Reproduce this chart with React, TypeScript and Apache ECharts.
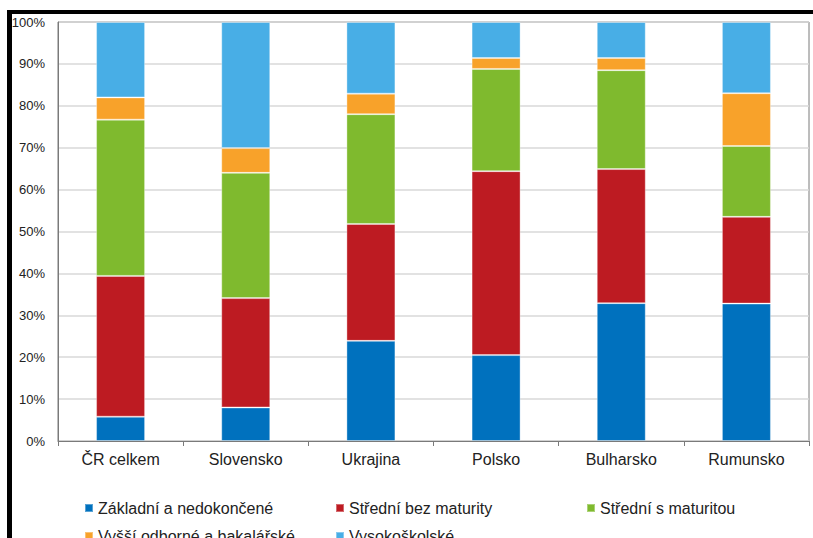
import React, { useEffect, useRef } from "react";
import * as echarts from "echarts";

// Vzdělanostní struktura podle země (v %)
const countries = ["ČR celkem", "Slovensko", "Ukrajina", "Polsko", "Bulharsko", "Rumunsko"];
const seriesNames = [
  "Základní a nedokončené",
  "Střední bez maturity",
  "Střední s maturitou",
  "Vyšší odborné a bakalářské",
  "Vysokoškolské",
];
const zakladni = [5.8, 8.0, 23.9, 20.5, 32.9, 32.8];
const stredniBez = [33.6, 26.1, 27.9, 43.9, 32.0, 20.7];
const stredniS = [37.3, 29.9, 26.2, 24.4, 23.6, 16.9];
const vyssi = [5.3, 5.9, 4.9, 2.6, 2.9, 12.6];
const vysokoskolske = [18.0, 30.1, 17.1, 8.6, 8.6, 17.0];
const yTicks = [0, 10, 20, 30, 40, 50, 60, 70, 80, 90, 100];

const colors = ["#0071BE", "#BD1B22", "#7FBA2E", "#F8A22A", "#48AEE6"];
const values = [zakladni, stredniBez, stredniS, vyssi, vysokoskolske];

// legend grid: 3 columns, 2 rows
const legendLeft = [84, 335, 586, 84, 335];
const legendTop = [500, 500, 500, 528, 528];

const FONT = "'Liberation Sans', Arial, sans-serif";

export default function App() {
  const ref = useRef<HTMLDivElement>(null);

  useEffect(() => {
    if (!ref.current) return;
    const chart = echarts.init(ref.current, null, { renderer: "svg" });

    const legendText = { fontSize: 16, color: "#222", fontFamily: FONT };

    chart.setOption({
      animation: false,
      textStyle: { fontFamily: FONT },
      grid: {
        left: 58,
        right: 4,
        top: 22,
        bottom: 97,
        show: true,
        borderColor: "#7a7a7a",
        borderWidth: 1,
      },
      legend: seriesNames.map((name, i) => ({
        left: legendLeft[i],
        top: legendTop[i],
        padding: 0,
        itemWidth: 8,
        itemHeight: 8,
        icon: "rect",
        textStyle: legendText,
        data: [name],
      })),
      xAxis: {
        type: "category",
        data: countries,
        axisLine: { lineStyle: { color: "#7a7a7a", width: 1 } },
        axisTick: { show: true, length: 5, lineStyle: { color: "#7a7a7a" } },
        axisLabel: { fontSize: 16, color: "#222", margin: 10, fontFamily: FONT },
      },
      yAxis: {
        type: "value",
        min: yTicks[0],
        max: yTicks[yTicks.length - 1],
        interval: 10,
        axisLine: { show: true, lineStyle: { color: "#7a7a7a" } },
        axisTick: { show: false },
        axisLabel: {
          formatter: "{value}%",
          fontSize: 13,
          color: "#222",
          margin: 13,
          fontFamily: FONT,
        },
        splitLine: { lineStyle: { color: "#d9d9d9", width: 1.5 } },
      },
      series: seriesNames.map((name, i) => ({
        name,
        type: "bar",
        stack: "total",
        barWidth: 49,
        data: values[i],
        itemStyle: {
          color: colors[i],
          borderColor: "rgba(255,255,255,0.35)",
          borderWidth: 1,
        },
      })),
      graphic: [
        {
          type: "rect",
          shape: { x: 8, y: 10, width: 805, height: 4 },
          style: { fill: "#000" },
          silent: true,
        },
        {
          type: "rect",
          shape: { x: 7, y: 10, width: 5, height: 528 },
          style: { fill: "#000" },
          silent: true,
        },
      ],
    });

    return () => chart.dispose();
  }, []);

  return (
    <div
      ref={ref}
      style={{ position: "fixed", left: 0, top: 0, width: 813, height: 538, background: "#fff" }}
    />
  );
}
